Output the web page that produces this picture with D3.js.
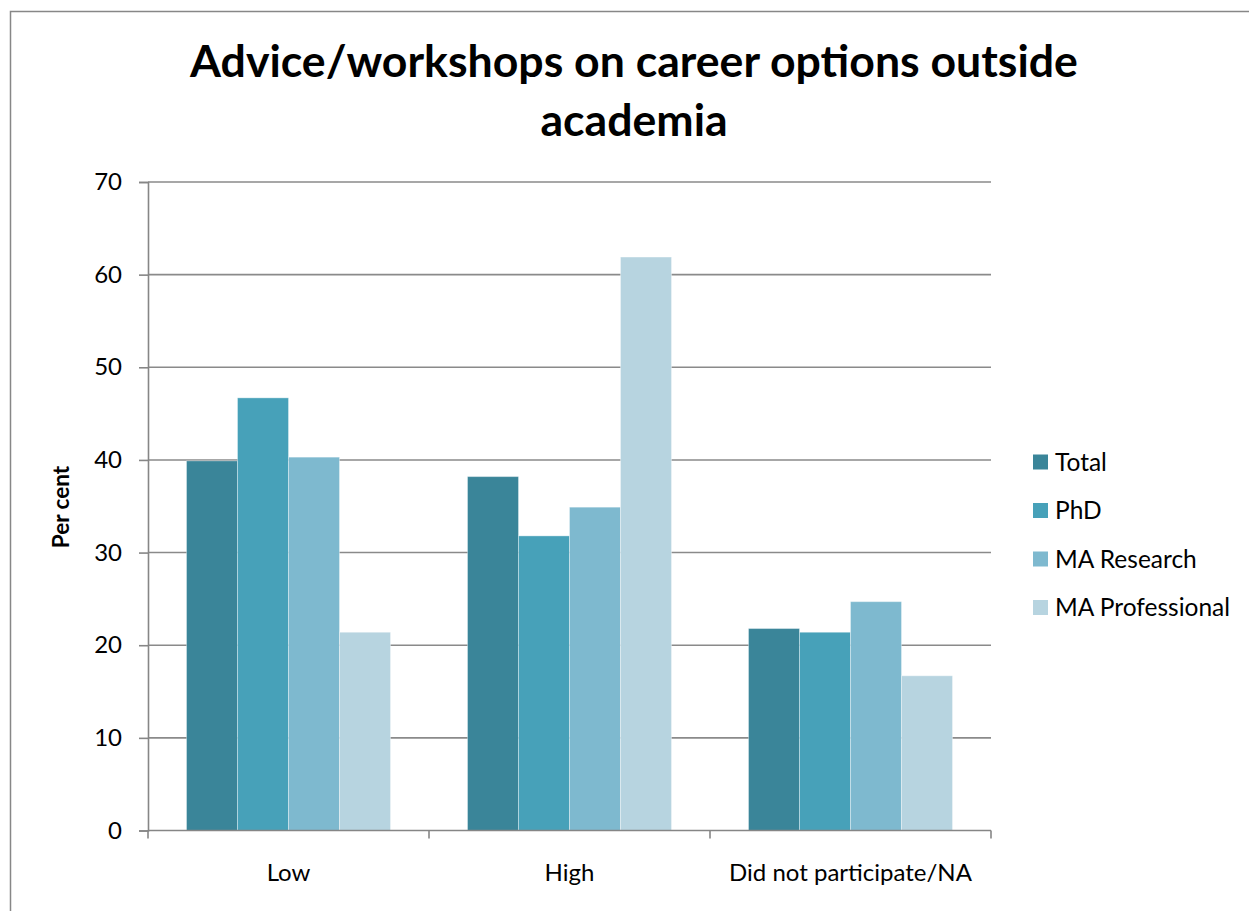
<!DOCTYPE html>
<html>
<head>
<meta charset="utf-8">
<script src="https://cdn.jsdelivr.net/npm/d3@7"></script>
<style>
  body { margin: 0; background: #fff; }
  svg text { font-family: Lato, "Open Sans", sans-serif; fill: #000; }
</style>
</head>
<body>
<svg id="chart" width="1249" height="911"></svg>
<script>
// données
var categories = ["Low", "High", "Did not participate/NA"];
var series = ["Total", "PhD", "MA Research", "MA Professional"];
var total = [39.9, 38.2, 21.8];
var phd = [46.7, 31.8, 21.4];
var maResearch = [40.3, 34.9, 24.7];
var maProfessional = [21.4, 61.9, 16.7];
var yTicks = [0, 10, 20, 30, 40, 50, 60, 70];
var colors = ["#3a8599", "#47a1b9", "#7eb9cf", "#b7d4e0"];

var values = [total, phd, maResearch, maProfessional];

var svg = d3.select("#chart");
var plotLeft = 148, plotRight = 991, plotTop = 182, plotBottom = 830.5;

// cadre extérieur
svg.append("rect")
  .attr("x", 10.5).attr("y", 11.5)
  .attr("width", 1260).attr("height", 920)
  .attr("fill", "none").attr("stroke", "#878787").attr("stroke-width", 1.5);

// titre
var title = svg.append("text")
  .attr("text-anchor", "middle")
  .attr("font-weight", "bold")
  .attr("font-size", 44.6);
title.append("tspan").attr("x", 634).attr("y", 77).text("Advice/workshops on career options outside");
title.append("tspan").attr("x", 634).attr("y", 136).text("academia");

var y = d3.scaleLinear().domain([0, 70]).range([plotBottom, plotTop]);
var x0 = d3.scaleBand().domain(categories).range([plotLeft, plotRight]);
var x1 = d3.scaleBand().domain(series).range([38.5, x0.bandwidth() - 38.5]);

// grille
svg.append("g")
  .selectAll("line")
  .data(yTicks.slice(1))
  .join("line")
    .attr("x1", plotLeft).attr("x2", plotRight)
    .attr("y1", d => y(d)).attr("y2", d => y(d))
    .attr("stroke", "#8a8a8a").attr("stroke-width", 1.6);

// barres
var table = [];
categories.forEach((c, i) => {
  series.forEach((s, j) => {
    table.push({cat: c, serie: s, value: values[j][i], color: colors[j]});
  });
});

svg.append("g")
  .selectAll("rect")
  .data(table)
  .join("rect")
    .attr("x", d => x0(d.cat) + x1(d.serie))
    .attr("y", d => y(d.value))
    .attr("width", x1.bandwidth())
    .attr("height", d => plotBottom - y(d.value))
    .attr("fill", d => d.color)
    .attr("stroke", "#ffffff").attr("stroke-opacity", 0.35).attr("stroke-width", 1);

// axe Y
var yAxis = svg.append("g")
  .attr("transform", `translate(${plotLeft},0)`)
  .call(d3.axisLeft(y).tickValues(yTicks).tickSize(9).tickPadding(17));
yAxis.select(".domain").attr("stroke", "#868686").attr("stroke-width", 1.6);
yAxis.selectAll(".tick line").attr("stroke", "#868686").attr("stroke-width", 1.6);
yAxis.selectAll(".tick text")
  .attr("font-size", 24).attr("font-family", "Lato, sans-serif").attr("fill", "#000");

// axe X (graduations aux limites des catégories)
var bounds = categories.map(c => x0(c)).concat([plotRight]);
var xAxis = svg.append("g");
xAxis.append("line")
  .attr("x1", plotLeft).attr("x2", plotRight)
  .attr("y1", plotBottom).attr("y2", plotBottom)
  .attr("stroke", "#868686").attr("stroke-width", 1.6);
xAxis.selectAll("line.tk")
  .data(bounds)
  .join("line").attr("class", "tk")
    .attr("x1", d => d).attr("x2", d => d)
    .attr("y1", plotBottom).attr("y2", plotBottom + 8)
    .attr("stroke", "#868686").attr("stroke-width", 1.6);
xAxis.selectAll("text")
  .data(categories)
  .join("text")
    .attr("x", d => x0(d) + x0.bandwidth() / 2)
    .attr("y", 881)
    .attr("text-anchor", "middle")
    .attr("font-size", 24)
    .text(d => d);

// titre axe Y
svg.append("text")
  .attr("transform", "translate(69,507) rotate(-90)")
  .attr("text-anchor", "middle")
  .attr("font-weight", "bold")
  .attr("font-size", 22.5)
  .text("Per cent");

// légende
var legend = svg.append("g")
  .selectAll("g")
  .data(series)
  .join("g")
    .attr("transform", (d, i) => `translate(1033,${462 + i * 48.5})`);
legend.append("rect")
  .attr("x", 0).attr("y", -7.5)
  .attr("width", 15).attr("height", 15)
  .attr("fill", (d, i) => colors[i]);
legend.append("text")
  .attr("x", 22).attr("y", 8.5)
  .attr("font-size", 24.5)
  .text(d => d);
</script>
</body>
</html>
